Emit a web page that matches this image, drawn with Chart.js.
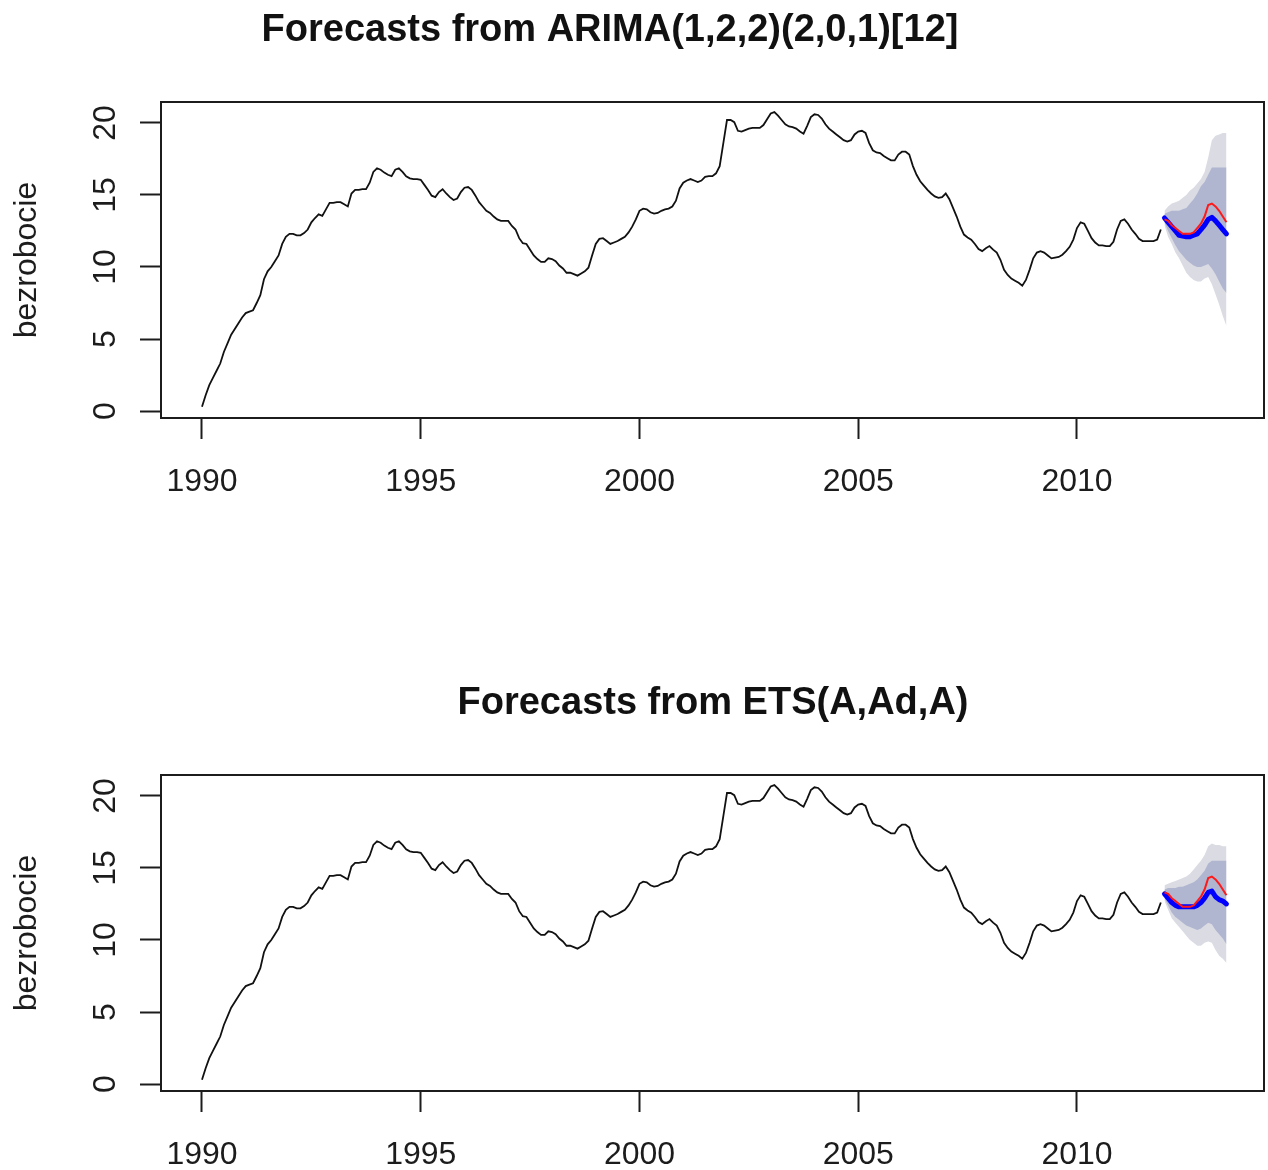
<!DOCTYPE html>
<html lang="pl">
<head>
<meta charset="utf-8">
<title>Prognozy stopy bezrobocia</title>
<script src="https://cdn.jsdelivr.net/npm/chart.js@4.4.1/dist/chart.umd.min.js"></script>
<style>
  html, body { margin: 0; padding: 0; background: #fff; overflow: hidden; }
  canvas { display: block; }
</style>
</head>
<body>
<canvas id="arima" width="1268" height="673"></canvas>
<canvas id="ets" width="1268" height="673"></canvas>
<script>
// Monthly registered unemployment rate (%), January 1990 - December 2011
const startYear = 1990;
const observed = [
  0.3, 1.1, 1.8, 2.3, 2.8, 3.3, 4.1, 4.7, 5.3, 5.7, 6.1, 6.5,            // 1990
  6.8, 6.9, 7.0, 7.5, 8.05, 9.15, 9.7, 10.0, 10.4, 10.8, 11.6, 12.1,     // 1991
  12.3, 12.3, 12.2, 12.2, 12.35, 12.6, 13.1, 13.4, 13.65, 13.55, 14.0, 14.45, // 1992
  14.45, 14.5, 14.5, 14.35, 14.2, 15.1, 15.35, 15.35, 15.4, 15.4, 15.85, 16.6, // 1993
  16.85, 16.75, 16.55, 16.4, 16.3, 16.75, 16.85, 16.6, 16.3, 16.15, 16.1, 16.1, // 1994
  16.05, 15.7, 15.35, 14.95, 14.85, 15.2, 15.4, 15.1, 14.85, 14.65, 14.75, 15.2, // 1995
  15.5, 15.55, 15.35, 14.95, 14.5, 14.2, 13.9, 13.75, 13.5, 13.3, 13.2, 13.2,   // 1996
  13.2, 12.85, 12.6, 12.0, 11.65, 11.6, 11.2, 10.8, 10.55, 10.35, 10.35, 10.6,  // 1997
  10.55, 10.4, 10.1, 9.9, 9.6, 9.6, 9.5, 9.4, 9.55, 9.7, 9.95, 10.8,          // 1998
  11.6, 11.95, 12.0, 11.8, 11.6, 11.7, 11.8, 11.95, 12.1, 12.4, 12.8, 13.3,   // 1999
  13.9, 14.05, 14.0, 13.8, 13.7, 13.75, 13.9, 14.0, 14.05, 14.2, 14.6, 15.45, // 2000
  15.85, 16.0, 16.1, 16.0, 15.9, 16.0, 16.25, 16.3, 16.3, 16.5, 17.0, 18.6,   // 2001
  20.2, 20.2, 20.05, 19.45, 19.4, 19.5, 19.6, 19.65, 19.65, 19.65, 19.85, 20.25, // 2002
  20.65, 20.75, 20.5, 20.2, 19.9, 19.75, 19.7, 19.6, 19.4, 19.25, 19.8, 20.4,  // 2003
  20.6, 20.55, 20.3, 19.9, 19.6, 19.4, 19.2, 19.0, 18.8, 18.7, 18.8, 19.2,    // 2004
  19.4, 19.45, 19.3, 18.6, 18.1, 17.95, 17.9, 17.7, 17.55, 17.4, 17.4, 17.8,  // 2005
  18.0, 18.0, 17.8, 17.0, 16.4, 15.95, 15.65, 15.35, 15.1, 14.9, 14.8, 14.85, // 2006
  15.1, 14.7, 14.1, 13.5, 12.8, 12.25, 12.05, 11.9, 11.6, 11.25, 11.1, 11.3,  // 2007
  11.45, 11.2, 11.0, 10.5, 9.8, 9.45, 9.2, 9.05, 8.9, 8.7, 9.1, 9.8,          // 2008
  10.6, 11.0, 11.1, 11.0, 10.8, 10.6, 10.65, 10.7, 10.85, 11.1, 11.4, 11.9,   // 2009
  12.7, 13.1, 13.0, 12.5, 12.0, 11.7, 11.5, 11.5, 11.45, 11.45, 11.75, 12.6,  // 2010
  13.2, 13.3, 13.0, 12.6, 12.3, 11.95, 11.8, 11.8, 11.8, 11.8, 11.9, 12.6     // 2011
];

// Forecast horizon: January 2012 - June 2013
const forecastStart = 2012;
const actual2012 = [13.3, 13.2, 12.9, 12.7, 12.5, 12.3, 12.3, 12.3, 12.4, 12.7, 13.0, 13.5, 14.3, 14.4, 14.2, 13.9, 13.5, 13.1];

const arimaMean = [13.4, 13.1, 12.8, 12.5, 12.2, 12.15, 12.1, 12.1, 12.2, 12.3, 12.6, 12.9, 13.3, 13.45, 13.2, 12.9, 12.6, 12.3];
const arimaLo80 = [13.1, 12.5, 12.0, 11.5, 11.1, 10.8, 10.5, 10.3, 10.1, 10.0, 10.0, 10.1, 10.2, 9.9, 9.5, 9.0, 8.5, 8.2];
const arimaHi80 = [13.7, 13.8, 13.9, 13.9, 13.9, 14.0, 14.1, 14.4, 14.7, 15.1, 15.6, 15.9, 16.4, 16.9, 16.9, 16.9, 16.9, 16.9];
const arimaLo95 = [12.9, 12.1, 11.6, 11.0, 10.6, 10.1, 9.6, 9.3, 9.1, 9.0, 9.0, 9.2, 9.3, 8.8, 8.1, 7.4, 6.6, 5.9];
const arimaHi95 = [13.9, 14.2, 14.4, 14.5, 14.6, 14.8, 15.0, 15.3, 15.5, 15.8, 16.1, 16.6, 17.6, 18.8, 19.1, 19.2, 19.3, 19.3];

const etsMean = [13.2, 12.9, 12.6, 12.4, 12.3, 12.3, 12.3, 12.3, 12.3, 12.4, 12.6, 12.9, 13.3, 13.4, 13.0, 12.8, 12.7, 12.5];
const etsLo80 = [12.9, 12.4, 11.9, 11.6, 11.4, 11.2, 11.0, 10.9, 10.8, 10.7, 10.8, 11.0, 11.2, 11.1, 10.7, 10.4, 10.1, 9.7];
const etsHi80 = [13.5, 13.6, 13.6, 13.6, 13.7, 13.7, 13.8, 13.9, 14.0, 14.2, 14.5, 14.8, 15.3, 15.5, 15.5, 15.5, 15.5, 15.5];
const etsLo95 = [12.7, 12.1, 11.5, 11.2, 10.9, 10.6, 10.3, 10.0, 9.8, 9.6, 9.6, 9.8, 9.9, 9.8, 9.3, 8.9, 8.7, 8.4];
const etsHi95 = [13.8, 13.9, 14.0, 14.1, 14.2, 14.3, 14.4, 14.6, 14.9, 15.2, 15.5, 15.9, 16.5, 16.7, 16.6, 16.6, 16.5, 16.5];

// Axis ticks
const xTicks = [1990, 1995, 2000, 2005, 2010];
const yTicks = [0, 5, 10, 15, 20];

const FONT = '"Liberation Sans", Arial, Helvetica, sans-serif';
const INK = '#1c1c1c';

// monthly values -> {x: decimal year, y}
function monthly(values, start) {
  return values.map((v, i) => ({ x: start + i / 12, y: v }));
}

// Main title drawn at a fixed spot above the plot box
const panelTitle = {
  id: 'panelTitle',
  afterDraw(chart, args, opts) {
    const ctx = chart.ctx;
    ctx.save();
    ctx.font = 'bold 38px ' + FONT;
    ctx.fillStyle = '#111';
    ctx.textAlign = 'center';
    ctx.textBaseline = 'alphabetic';
    ctx.fillText(opts.text, opts.x, opts.y);
    ctx.restore();
  }
};

// Closed box around the plotting region
const frame = {
  id: 'frame',
  afterDatasetsDraw(chart) {
    const { ctx, chartArea: a } = chart;
    ctx.save();
    ctx.strokeStyle = INK;
    ctx.lineWidth = 2;
    ctx.strokeRect(a.left, a.top, a.right - a.left, a.bottom - a.top);
    ctx.restore();
  }
};

function forecastChart(id, title, titleX, mean, lo80, hi80, lo95, hi95) {
  const band = (data, fill, color) => ({
    data: monthly(data, forecastStart),
    borderWidth: 0,
    pointRadius: 0,
    backgroundColor: color,
    fill: fill
  });
  return new Chart(document.getElementById(id), {
    type: 'line',
    data: {
      datasets: [
        { label: 'actual', data: monthly(actual2012, forecastStart), borderColor: '#ff1a1a', borderWidth: 2, pointRadius: 0, tension: 0 },
        { label: 'forecast', data: monthly(mean, forecastStart), borderColor: '#0000ff', borderWidth: 5, pointRadius: 0, tension: 0, borderCapStyle: 'round', borderJoinStyle: 'round' },
        { label: 'bezrobocie', data: monthly(observed, startYear), borderColor: '#111', borderWidth: 1.8, pointRadius: 0, tension: 0 },
        band(hi80, '+1', '#b0b5d0'),
        band(lo80, false, 'rgba(0,0,0,0)'),
        band(hi95, '+1', '#dadbe3'),
        band(lo95, false, 'rgba(0,0,0,0)')
      ]
    },
    options: {
      responsive: false,
      devicePixelRatio: 1,
      animation: false,
      events: [],
      layout: { padding: { top: 102, right: 4, left: 0, bottom: 0 } },
      plugins: {
        legend: { display: false },
        tooltip: { enabled: false },
        panelTitle: { text: title, x: titleX, y: 41 }
      },
      scales: {
        x: {
          type: 'linear',
          min: 1989.063,
          max: 2014.275,
          afterBuildTicks: s => { s.ticks = xTicks.map(v => ({ value: v })); },
          afterFit: s => { s.height = 255; },
          border: { display: false },
          grid: { drawOnChartArea: false, drawTicks: true, tickLength: 21, tickWidth: 2, tickColor: INK },
          ticks: {
            minRotation: 0, maxRotation: 0, padding: 24,
            color: INK, font: { family: FONT, size: 32 },
            callback: v => String(v)
          }
        },
        y: {
          type: 'linear',
          min: -0.48,
          max: 21.45,
          afterBuildTicks: s => { s.ticks = yTicks.map(v => ({ value: v })); },
          afterFit: s => { s.width = 161; },
          border: { display: false },
          grid: { drawOnChartArea: false, drawTicks: true, tickLength: 21, tickWidth: 2, tickColor: INK },
          ticks: {
            minRotation: 90, maxRotation: 90,
            crossAlign: 'center', align: 'end', padding: 0,
            color: INK, font: { family: FONT, size: 32 },
            callback: v => String(v)
          },
          title: {
            display: true, text: 'bezrobocie', color: INK,
            font: { family: FONT, size: 32 },
            padding: { top: 8, bottom: 0 }
          }
        }
      }
    },
    plugins: [panelTitle, frame]
  });
}

forecastChart('arima', 'Forecasts from ARIMA(1,2,2)(2,0,1)[12]', 610,
  arimaMean, arimaLo80, arimaHi80, arimaLo95, arimaHi95);
forecastChart('ets', 'Forecasts from ETS(A,Ad,A)', 713,
  etsMean, etsLo80, etsHi80, etsLo95, etsHi95);
</script>
</body>
</html>
